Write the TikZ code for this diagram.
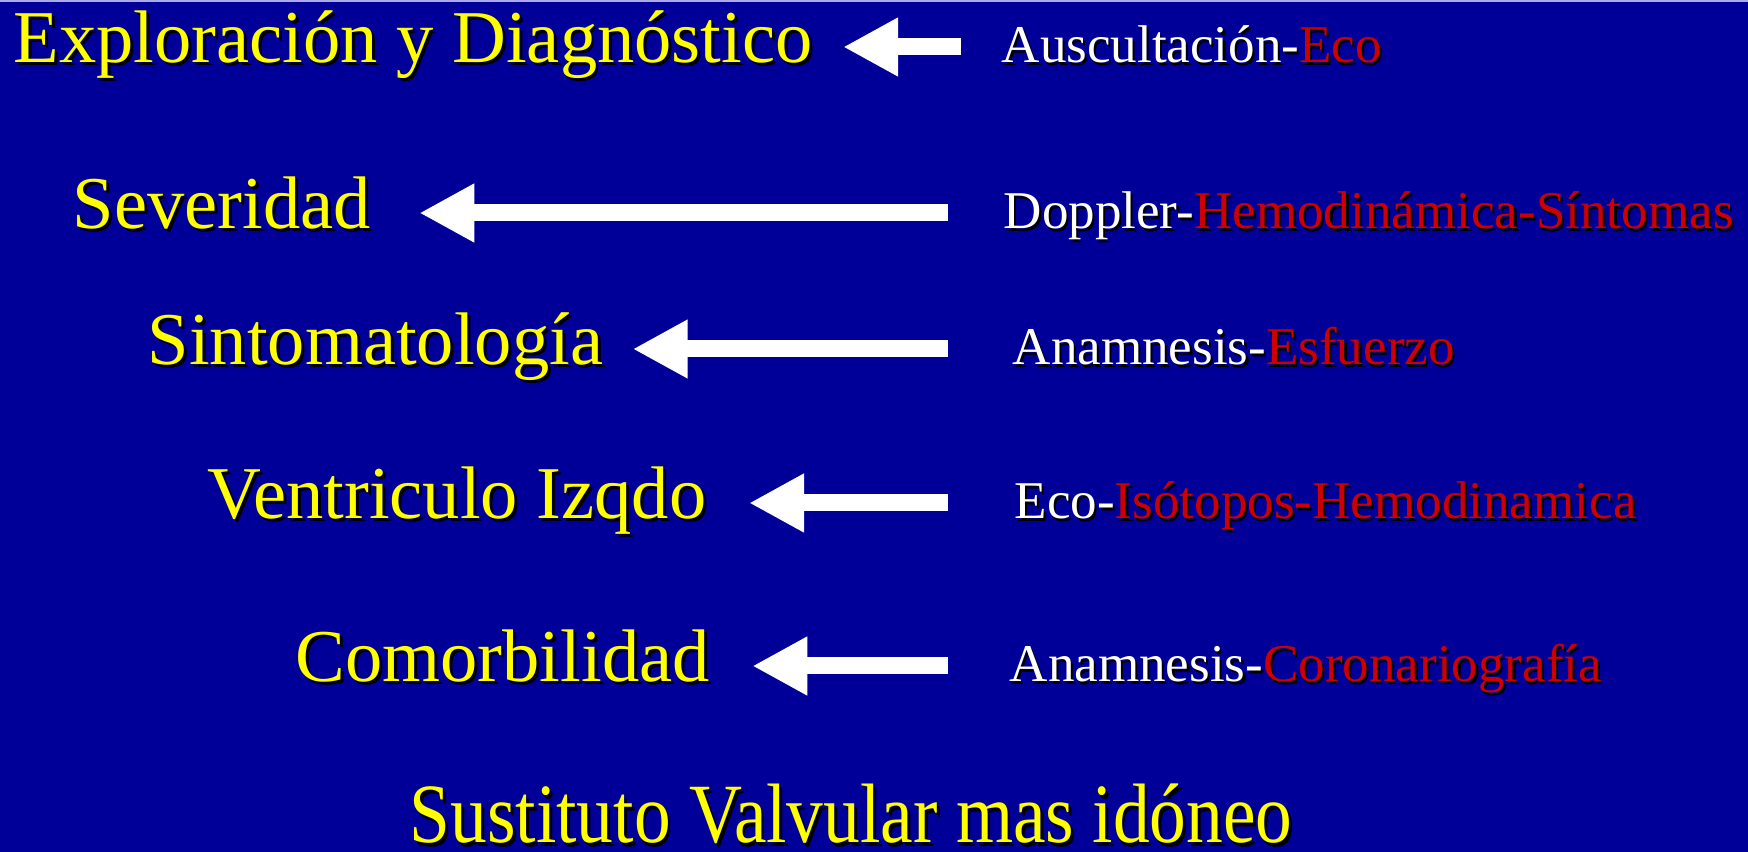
\documentclass[tikz,border=0pt]{standalone}
\usepackage{fontspec}
\setmainfont{Liberation Serif}
\usepackage{xcolor}
\usepackage{graphicx}
\usepackage{tikz}
\usetikzlibrary{arrows.meta}
\definecolor{slideBlue}{RGB}{0,0,153}
\definecolor{slideEdge}{RGB}{170,170,235}
\definecolor{titleYellow}{RGB}{255,255,0}
\definecolor{methodRed}{RGB}{204,0,0}
\newcommand{\shadowtext}[1]{\rlap{\kern0.04em\raisebox{-0.04em}{\colorlet{methodRed}{black}\color{black}#1}}#1}
\tikzset{
  stageText/.style={text=titleYellow, font=\fontsize{21.2pt}{25pt}\selectfont, inner sep=0pt, anchor=west, text height=9.1pt, text depth=0pt},
  toolText/.style={text=white, font=\fontsize{15.1pt}{18pt}\selectfont, inner sep=0pt, anchor=west, text height=9.1pt, text depth=0pt},
  backArrow/.style={-{Triangle[length=5.5mm, width=5.5mm]}, line width=1.7mm, white}
}

\begin{document}
\begin{tikzpicture}[x=0.1mm, y=-0.1mm]
    % Slide background
    \fill[slideBlue] (0,0) rectangle (1748,852);
    \fill[slideEdge] (0,0) rectangle (1748,2.5);
    \useasboundingbox (0,0) rectangle (1748,852);

    % Stages (left column)
    \node[stageText] (explor) at (13,47) {\shadowtext{Exploración y Diagnóstico}};
    \node[stageText] (sever) at (72,213) {\shadowtext{Severidad}};
    \node[stageText] (sintom) at (147,349) {\shadowtext{Sintomatología}};
    \node[stageText] (ventr) at (207,503) {\shadowtext{Ventriculo Izqdo}};
    \node[stageText] (comorb) at (295,666) {\shadowtext{Comorbilidad}};

    % Tools (right column)
    \node[toolText] (auscul) at (1001,47) {\shadowtext{Auscultación-\textcolor{methodRed}{Eco}}};
    \node[toolText] (doppler) at (1003,213) {\shadowtext{Doppler-\textcolor{methodRed}{Hemodinámica-Síntomas}}};
    \node[toolText] (anamEsf) at (1012,349) {\shadowtext{Anamnesis-\textcolor{methodRed}{Esfuerzo}}};
    \node[toolText] (ecoIso) at (1014,503) {\shadowtext{Eco-\textcolor{methodRed}{Isótopos-Hemodinamica}}};
    \node[toolText] (anamCor) at (1009,666) {\shadowtext{Anamnesis-\textcolor{methodRed}{Coronariografía}}};

    % Arrows
    \draw[backArrow] ([xshift=-4mm]auscul.west) -- ([xshift=3mm]explor.east);
    \draw[backArrow] ([xshift=-5.5mm]doppler.west) -- ([xshift=4.8mm]sever.east);
    \draw[backArrow] ([xshift=-6.4mm]anamEsf.west) -- ([xshift=2.9mm]sintom.east);
    \draw[backArrow] ([xshift=-6.6mm]ecoIso.west) -- ([xshift=4.2mm]ventr.east);
    \draw[backArrow] ([xshift=-6.1mm]anamCor.west) -- ([xshift=4.2mm]comorb.east);

    % Conclusion
    \node[text=titleYellow, font=\fontsize{24pt}{29pt}\selectfont, inner sep=0pt, anchor=base, text depth=0pt] (valve) at (851,843) {\scalebox{0.87}[1]{\shadowtext{Sustituto Valvular mas idóneo}}};
\end{tikzpicture}
\end{document}
